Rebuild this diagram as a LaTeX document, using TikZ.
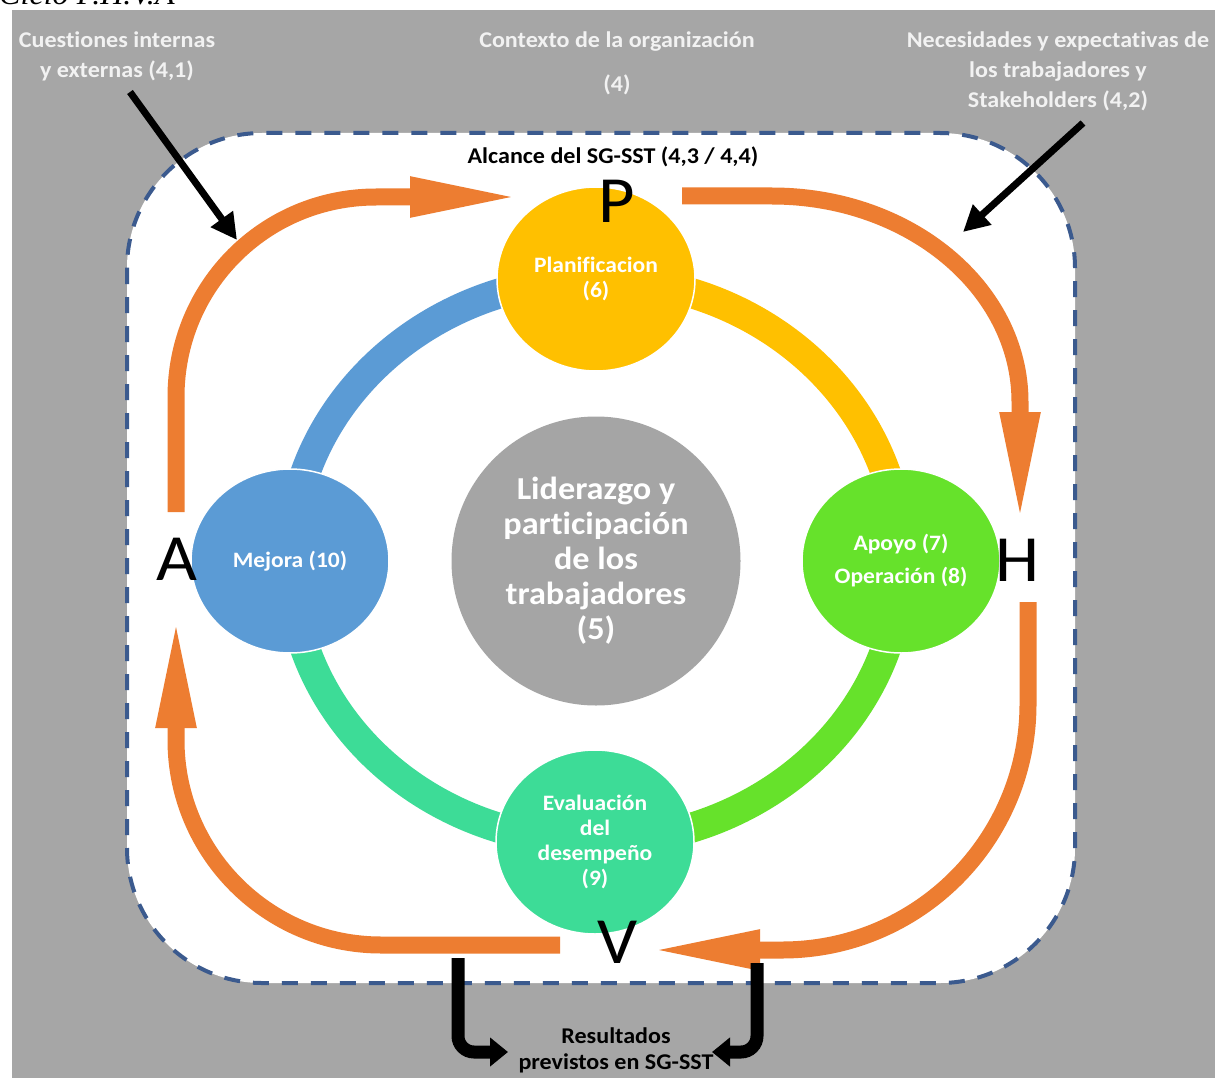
\documentclass[tikz,border=0pt]{standalone}
\usepackage{fontspec}
\setmainfont{Carlito}[FakeStretch=1.07, Ligatures={NoCommon}]
\newfontfamily\titlefont{Liberation Serif}[FakeStretch=1.07]
\usetikzlibrary{arrows.meta,shapes.geometric}
\definecolor{bggray}{HTML}{A6A6A6}
\definecolor{dashblue}{HTML}{3B5A8E}
\definecolor{orng}{HTML}{ED7D31}
\definecolor{ylw}{HTML}{FFC000}
\definecolor{blu}{HTML}{5B9BD5}
\definecolor{grn}{HTML}{66E22B}
\definecolor{tealc}{HTML}{3DDC97}
\definecolor{cgray}{HTML}{A5A5A5}
\definecolor{lblc}{HTML}{F2F2F2}
\begin{document}
\begin{tikzpicture}[x=1pt,y=-1pt,
  toplbl/.style={text=lblc, font=\bfseries\fontsize{22.5}{30}\selectfont, align=center, inner sep=0pt},
  blacklbl/.style={text=black, font=\bfseries\fontsize{22.5}{26}\selectfont, align=center, inner sep=0pt},
  circ/.style={ellipse, minimum width=198pt, minimum height=184pt, inner sep=0pt, draw=white, line width=1.5pt, text=white, align=center, font=\bfseries\fontsize{22}{25}\selectfont},
  bigletter/.style={inner sep=0pt, text=black, font=\fontsize{66}{66}\selectfont},
  ring/.style={line width=30pt},
  oarrow/.style={draw=orng, line width=17pt, -{Triangle[length=113pt,width=36pt]}},
  blkarrow/.style={draw=black, line width=7pt, -{Triangle[length=26pt,width=26pt]}},
  blkbent/.style={draw=black, line width=13pt, rounded corners=16pt, -{Triangle[length=18pt,width=28pt]}}
]
\useasboundingbox (0,0) rectangle (1215,1078);
\fill[bggray] (12,10) rectangle (1215,1078);
\node[anchor=base west, inner sep=0pt, font=\titlefont\itshape\fontsize{30}{30}\selectfont] (title) at (-1,5) {Ciclo P.H.V.A};

% scope box
\draw[dashblue, line width=4pt, dash pattern=on 16pt off 13pt, fill=white, rounded corners=135pt] (127,133) rectangle (1075,983);

% centres
\coordinate (cP) at (596,279);
\coordinate (cH) at (901,561);
\coordinate (cV) at (595,842);
\coordinate (cA) at (290,561);

% ring
\draw[ring, blu] (cA) .. controls +(0,-155) and +(-169,0) .. (cP);
\draw[ring, ylw] (cP) .. controls +(169,0) and +(0,-155) .. (cH);
\draw[ring, grn] (cH) .. controls +(0,155) and +(169,0) .. (cV);
\draw[ring, tealc] (cV) .. controls +(-169,0) and +(0,155) .. (cA);

% circles
\node[circ, fill=ylw] (pla) at (cP) {Planificacion\\(6)};
\node[circ, fill=grn, font=\bfseries\fontsize{22}{33}\selectfont] (apo) at (cH) {Apoyo (7)\\Operación (8)};
\node[circ, fill=tealc] (eva) at (cV) {Evaluación\\del\\desempeño\\(9)};
\node[circ, fill=blu] (mej) at (cA) {Mejora (10)};
\node[circle, minimum size=289pt, inner sep=0pt, fill=cgray, text=white, align=center, font=\bfseries\fontsize{32}{35}\selectfont] (lid) at (596,561) {Liderazgo y\\participación\\de los\\trabajadores\\(5)};

% big letters
\node[bigletter] (nP) at (617,201) {P};
\node[bigletter] (nA) at (177,559) {A};
\node[bigletter] (nH) at (1017,560) {H};
\node[bigletter] (nV) at (618,942) {V};

% orange arrow ends
\coordinate (oA1) at (176,512);
\coordinate (oP1) at (523,197);
\coordinate (oP2) at (682,196);
\coordinate (oH1) at (1020,525);
\coordinate (oH2) at (1028,602);
\coordinate (oV1) at (647,950);
\coordinate (oV2) at (560,945);
\coordinate (oA2) at (176,615);

\draw[oarrow] (oA1) -- (176,397) .. controls (176,286) and (265,197) .. (376,197) -- (oP1);
\draw[oarrow] (oP2) -- (772,196) .. controls (909,196) and (1020,288) .. (1020,402) -- (oH1);
\draw[oarrow] (oH2) -- (1028,704) .. controls (1028,840) and (918,950) .. (782,950) -- (oV1);
\draw[oarrow] (oV2) -- (381,945) .. controls (268,945) and (176,853) .. (176,740) -- (oA2);

% labels
\node[toplbl] (lbl1) at (117,56) {Cuestiones internas\\y externas (4,1)};
\node[toplbl] (lbl2) at (617,63) {Contexto de la organización\\[14pt](4)};
\node[toplbl] (lbl3) at (1058,71) {Necesidades y expectativas de\\los trabajadores y\\Stakeholders (4,2)};
\node[blacklbl] (alc) at (613,157) {Alcance del SG-SST (4,3 / 4,4)};
\node[blacklbl] (res) at (616,1050) {Resultados\\previstos en SG-SST};

% black arrows
\coordinate (k1s) at (130,92);
\coordinate (k1e) at (237,240);
\coordinate (k2s) at (1083,123);
\coordinate (k2e) at (963,232);
\draw[blkarrow] (k1s) -- (k1e);
\draw[blkarrow] (k2s) -- (k2e);
\coordinate (b1s) at (458,958);
\coordinate (b1e) at (508,1052);
\coordinate (b2s) at (757,963);
\coordinate (b2e) at (712,1052);
\draw[blkbent] (b1s) |- (b1e);
\draw[blkbent] (b2s) |- (b2e);
\end{tikzpicture}
\end{document}
